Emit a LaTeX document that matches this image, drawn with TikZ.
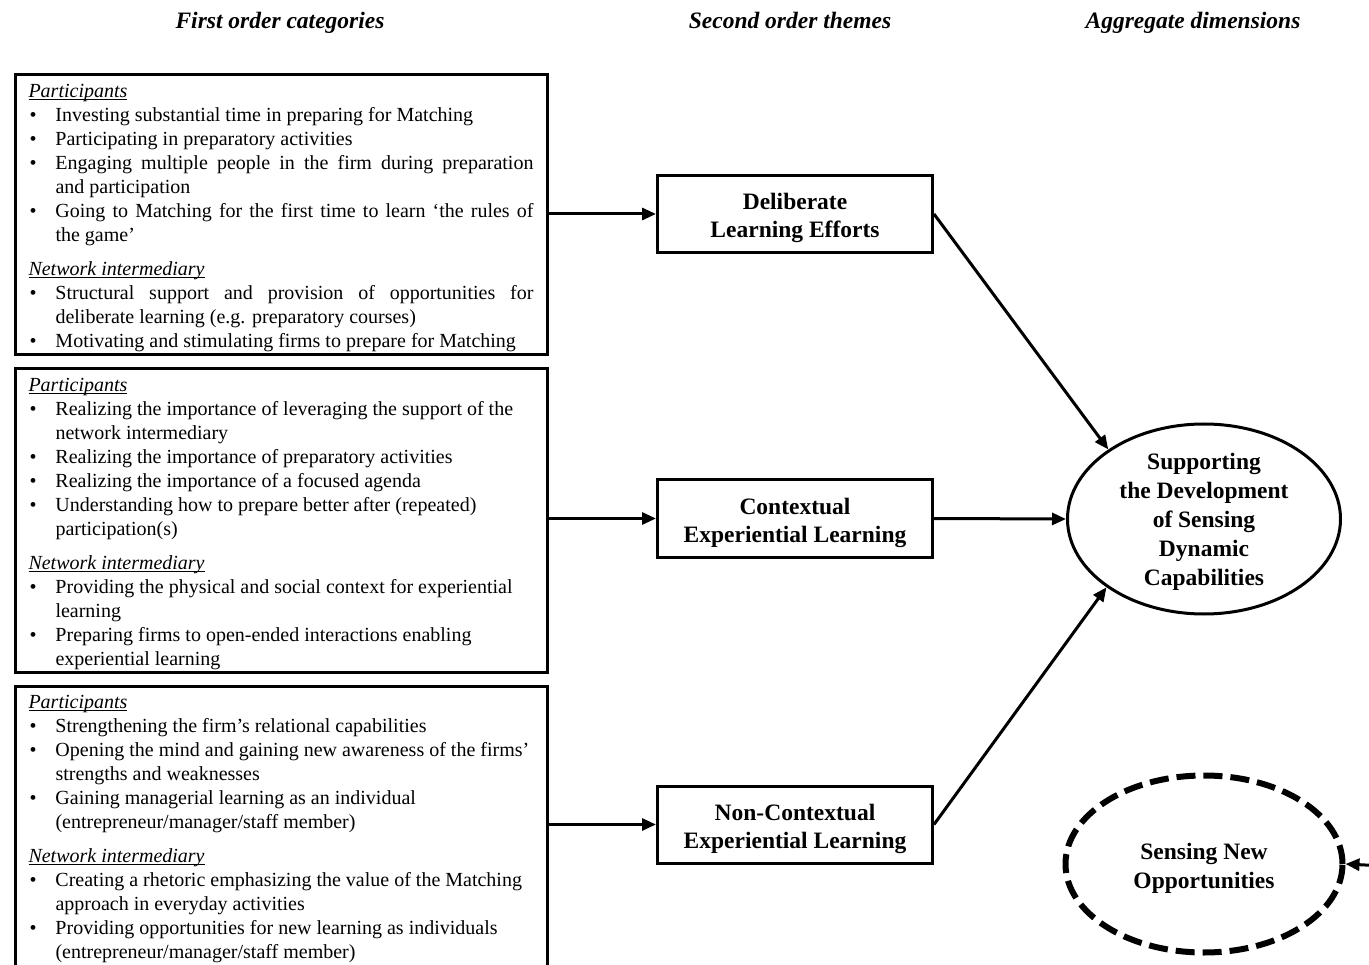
\documentclass[tikz,border=0pt]{standalone}
\usepackage{fontspec}
\setmainfont{Liberation Serif}
\usetikzlibrary{arrows.meta,shapes.geometric}

% underlined italic section heading inside a category box
\newcommand{\sect}[1]{\par\noindent\setbox0\hbox{\textit{#1}}\rlap{\rule[-2.6pt]{\wd0}{0.9pt}}\box0\par}
% bullet item with hanging indent
\newcommand{\bul}[1]{\par\noindent\hangindent=27pt\hangafter=1\makebox[27pt][l]{\hspace{1pt}\textbullet}#1\par}

\begin{document}
\begin{tikzpicture}[x=1pt,y=-1pt,
  head/.style={anchor=base,font=\fontsize{23.5}{28}\selectfont\bfseries\itshape},
  catbox/.style={draw,line width=3pt,anchor=north west,inner xsep=13.5pt,inner ysep=0pt},
  themebox/.style={draw,line width=3pt,minimum width=275pt,minimum height=77pt,
    inner sep=0pt,align=center,text height=52pt,text depth=5pt,
    font=\fontsize{23.5}{28}\selectfont\bfseries},
  dimell/.style={draw,ellipse,line width=3pt,minimum width=273pt,minimum height=190pt,
    inner sep=-7pt,align=center,text height=138pt,text depth=5pt,
    font=\fontsize{23.5}{29}\selectfont\bfseries},
  dashell/.style={draw,ellipse,line width=6pt,dash pattern=on 19pt off 8pt,
    minimum width=277pt,minimum height=177pt,inner sep=0pt,align=center,
    text height=53pt,text depth=5pt,font=\fontsize{23.5}{29}\selectfont\bfseries},
  link/.style={line width=3pt,-{Triangle[length=14pt,width=12pt]}}
]
\useasboundingbox (0,0) rectangle (1369,965);

% column headings
\node[head] (h1) at (280,29) {First order categories};
\node[head] (h2) at (790,29) {Second order themes};
\node[head] (h3) at (1193,29) {Aggregate dimensions};

% first order categories
\node[catbox] (c1) at (13.5,73.5) {\parbox[t][280pt][t]{505pt}{\fontsize{20}{24}\selectfont
  \vspace*{9pt}
  \sect{Participants}
  \bul{Investing substantial time in preparing for Matching}
  \bul{Participating in preparatory activities}
  \bul{Engaging multiple people in the firm during preparation\linebreak and participation}
  \bul{Going to Matching for the first time to learn `the rules of\linebreak the game'}
  \vspace{10pt}
  \sect{Network intermediary}
  \bul{Structural support and provision of opportunities for\linebreak deliberate learning (e.g. preparatory courses)}
  \bul{Motivating and stimulating firms to prepare for Matching}}};

\node[catbox] (c2) at (13.5,367.5) {\parbox[t][303pt][t]{505pt}{\fontsize{20}{24}\selectfont\raggedright
  \vspace*{9pt}
  \sect{Participants}
  \bul{Realizing the importance of leveraging the support of the\newline network intermediary}
  \bul{Realizing the importance of preparatory activities}
  \bul{Realizing the importance of a focused agenda}
  \bul{Understanding how to prepare better after (repeated)\newline participation(s)}
  \vspace{10pt}
  \sect{Network intermediary}
  \bul{Providing the physical and social context for experiential\newline learning}
  \bul{Preparing firms to open-ended interactions enabling\newline experiential learning}}};

\node[catbox] (c3) at (13.5,684.5) {\parbox[t][300pt][t]{505pt}{\fontsize{20}{24}\selectfont\raggedright
  \vspace*{9pt}
  \sect{Participants}
  \bul{Strengthening the firm's relational capabilities}
  \bul{Opening the mind and gaining new awareness of the firms'\newline strengths and weaknesses}
  \bul{Gaining managerial learning as an individual\newline (entrepreneur/manager/staff member)}
  \vspace{10pt}
  \sect{Network intermediary}
  \bul{Creating a rhetoric emphasizing the value of the Matching\newline approach in everyday activities}
  \bul{Providing opportunities for new learning as individuals\newline (entrepreneur/manager/staff member)}}};

% second order themes
\node[themebox] (dle) at (795,214) {Deliberate\\Learning Efforts};
\node[themebox] (cel) at (795,518.5) {Contextual\\Experiential Learning};
\node[themebox] (ncel) at (795,824.5) {Non-Contextual\\Experiential Learning};

% aggregate dimensions
\node[dimell] (sdc) at (1204,519) {Supporting\\the Development\\of Sensing\\Dynamic\\Capabilities};
\node[dashell] (sno) at (1204,864) {Sensing New\\Opportunities};
\coordinate (offr) at (1385,866);

% connectors
\draw[link] (dle.west -| c1.east) -- (dle.west);
\draw[link] (cel.west -| c2.east) -- (cel.west);
\draw[link] (ncel.west -| c3.east) -- (ncel.west);
\draw[link] (dle.east) -- (sdc.144);
\draw[link] (cel.east) -- (sdc.west);
\draw[link] (ncel.east) -- (sdc.215);
\draw[link] (offr) -- (sno.east);
\end{tikzpicture}
\end{document}
